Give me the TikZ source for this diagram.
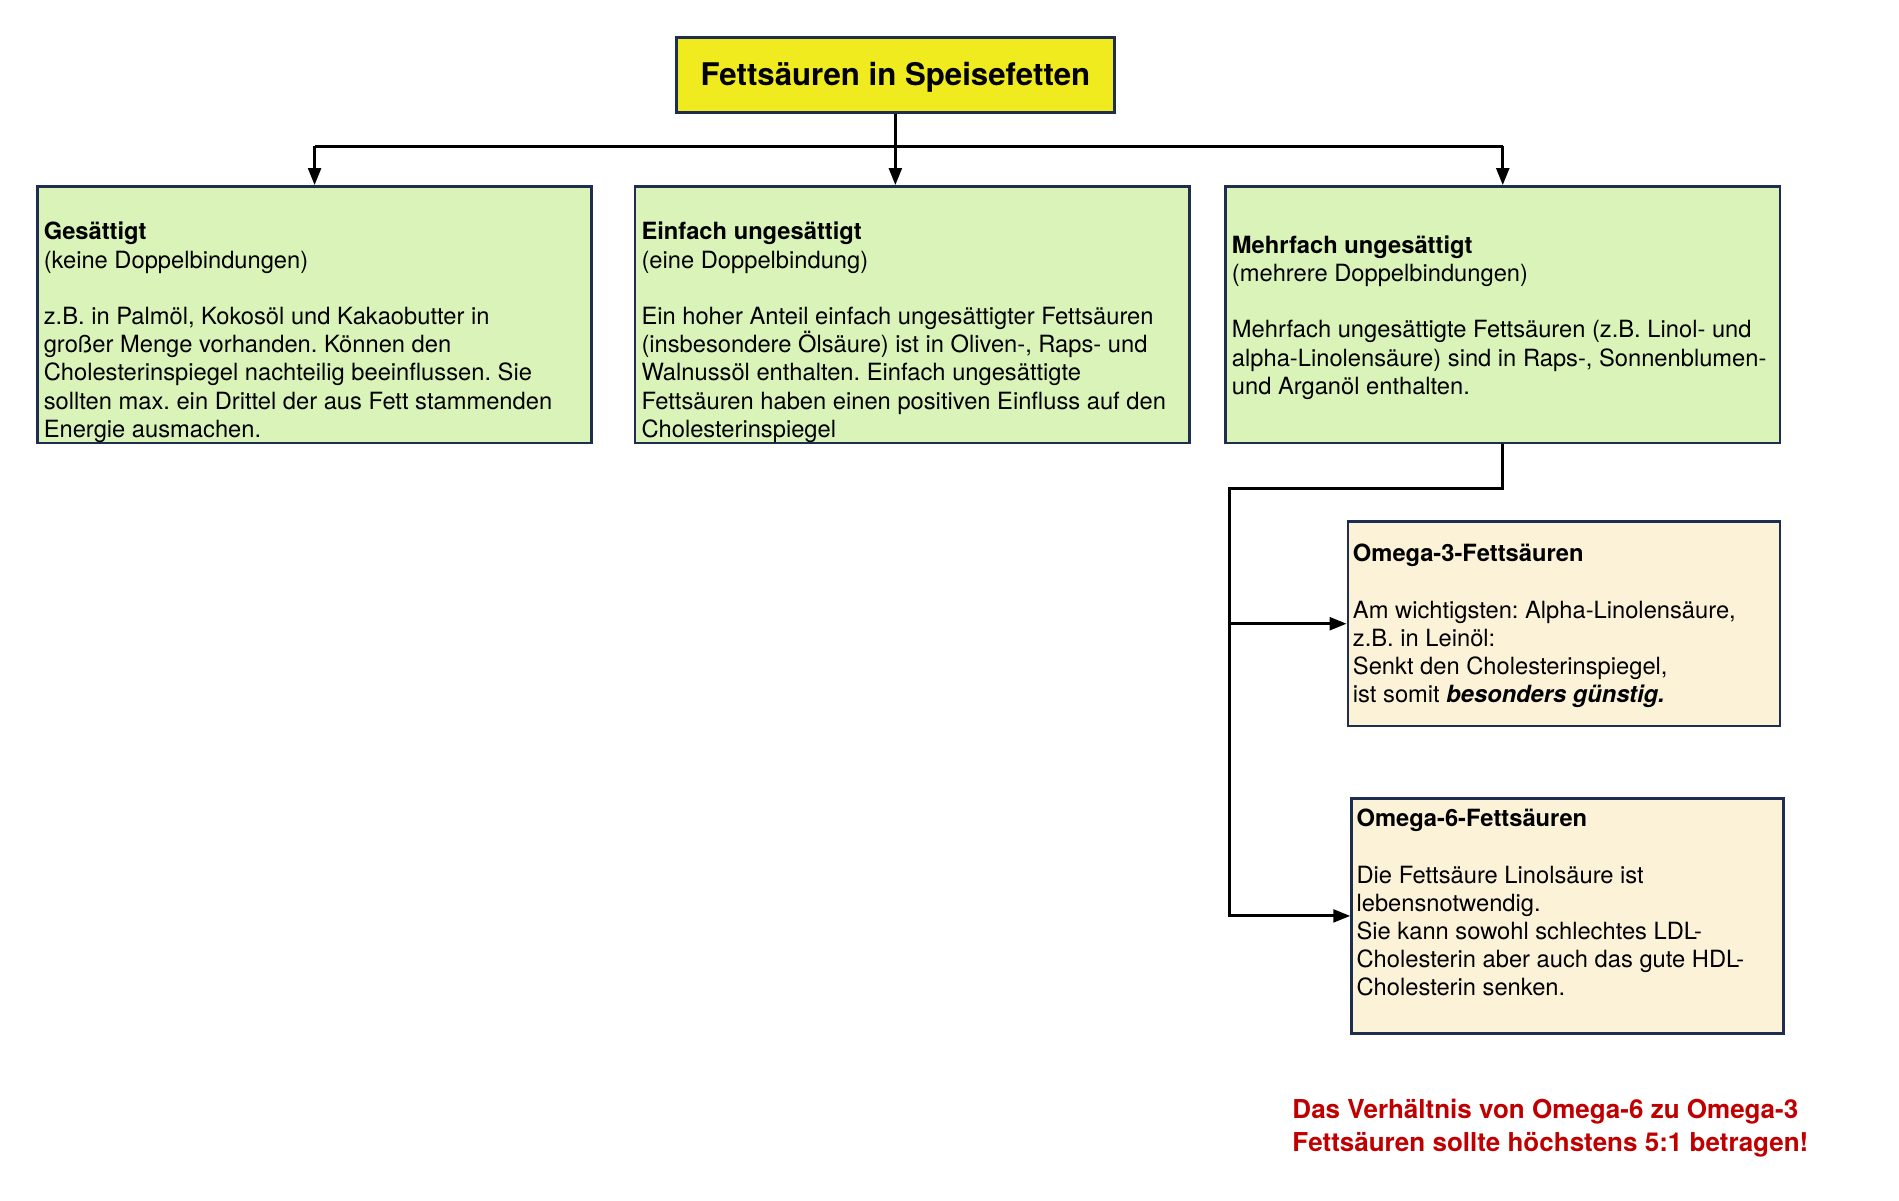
\documentclass[tikz,border=0pt]{standalone}
\usepackage{fontspec}
\setmainfont{TeX Gyre Heros}
\usetikzlibrary{arrows.meta}
\definecolor{boxborder}{HTML}{1E2D50}
\definecolor{titlefill}{HTML}{F0EB1E}
\definecolor{greenfill}{HTML}{DAF3B8}
\definecolor{creamfill}{HTML}{FBF2D7}
\definecolor{notered}{HTML}{C00000}
\frenchspacing
\begin{document}
\begin{tikzpicture}[x=1pt,y=-1pt,
  box/.style={draw=boxborder, line width=2pt, inner sep=0pt, anchor=north west},
  greenbox/.style={box, fill=greenfill, minimum width=458pt, minimum height=212pt},
  txt/.style={anchor=north west, inner sep=0pt, align=left, font=\fontsize{19.6}{23.3}\selectfont},
  conn/.style={line width=2.4pt, black},
  arr/.style={conn, -{Triangle[length=14pt,width=10.5pt]}},
]
\useasboundingbox (0,0) rectangle (1569.5,992.6);
% title
\node[box, fill=titlefill, minimum width=362pt, minimum height=62pt,
      text height=22pt, text depth=4.4pt,
      font=\bfseries\fontsize{25.8}{30}\selectfont] (title) at (558,30) {Fettsäuren in Speisefetten};
% main boxes
\node[greenbox] (box1) at (30,153) {};
\node[greenbox] (box2) at (524,153) {};
\node[greenbox] (box3) at (1012,153) {};
\node[box, fill=creamfill, minimum width=357pt, minimum height=169pt] (om3) at (1113,430) {};
\node[box, fill=creamfill, minimum width=357pt, minimum height=194pt] (om6) at (1116,659) {};
% texts
\node[txt] (t1) at (36,183.5) {\textbf{Gesättigt}\\(keine Doppelbindungen)\\[23.3pt]z.B. in Palmöl, Kokosöl und Kakaobutter in\\großer Menge vorhanden. Können den\\Cholesterinspiegel nachteilig beeinflussen. Sie\\sollten max. ein Drittel der aus Fett stammenden\\Energie ausmachen.};
\node[txt] (t2) at (530,183.5) {\textbf{Einfach ungesättigt}\\(eine Doppelbindung)\\[23.3pt]Ein hoher Anteil einfach ungesättigter Fettsäuren\\(insbesondere Ölsäure) ist in Oliven-, Raps- und\\Walnussöl enthalten. Einfach ungesättigte\\Fettsäuren haben einen positiven Einfluss auf den\\Cholesterinspiegel};
\node[txt] (t3) at (1018,194.5) {\textbf{Mehrfach ungesättigt}\\(mehrere Doppelbindungen)\\[23.3pt]Mehrfach ungesättigte Fettsäuren (z.B. Linol- und\\alpha-Linolensäure) sind in Raps-, Sonnenblumen-\\und Arganöl enthalten.};
\node[txt] (t4) at (1118,449.5) {\textbf{Omega-3-Fettsäuren}\\[23.3pt]Am wichtigsten: Alpha-Linolensäure,\\z.B. in Leinöl:\\Senkt den Cholesterinspiegel,\\ist somit \textbf{\textit{besonders günstig.}}};
\node[txt] (t5) at (1121,668.5) {\textbf{Omega-6-Fettsäuren}\\[23.3pt]Die Fettsäure Linolsäure ist\\lebensnotwendig.\\Sie kann sowohl schlechtes LDL-\\Cholesterin aber auch das gute HDL-\\Cholesterin senken.};
\node[anchor=north west, inner sep=0pt, align=left, text=notered,
      font=\bfseries\fontsize{21.5}{27}\selectfont] (note) at (1068,908.5)
      {Das Verhältnis von Omega-6 zu Omega-3\\Fettsäuren sollte höchstens 5:1 betragen!};
% connectors
\coordinate (tj) at (title.south |- 0,121);
\coordinate (hl) at (box1.north |- tj);
\coordinate (hr) at (box3.north |- tj);
\draw[conn] (title.south) -- (tj);
\draw[conn] (hl) -- (hr);
\draw[arr] (hl) -- (box1.north);
\draw[arr] (tj) -- (tj |- box2.north);
\draw[arr] (hr) -- (box3.north);
\coordinate (lj) at (1016,404);
\draw[arr] (box3.south) |- (lj) |- (om6.west);
\draw[arr] (lj |- om3.west) -- (om3.west);
\end{tikzpicture}
\end{document}
